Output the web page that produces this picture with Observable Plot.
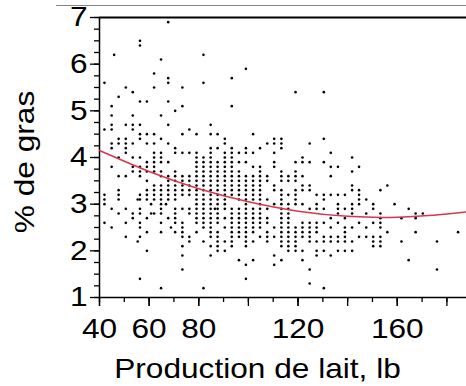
<!DOCTYPE html>
<html>
<head>
<meta charset="utf-8">
<script src="https://cdn.jsdelivr.net/npm/d3@7"></script>
<script src="https://cdn.jsdelivr.net/npm/@observablehq/plot@0.6"></script>
<style>
  html, body { margin: 0; padding: 0; background: #fff; }
</style>
</head>
<body>
<div id="chart"></div>
<script>
// Milk production (lb) columns and fat % values
const colX = [42.0, 44.9, 47.7, 50.6, 53.4, 56.3, 59.1, 62.0, 64.8, 67.7,
  70.5, 73.4, 76.2, 79.1, 81.9, 84.8, 87.6, 90.5, 93.3, 96.2,
  99.0, 101.9, 104.7, 107.6, 110.4, 113.3, 116.1, 119.0, 121.8, 124.7,
  127.5, 130.4, 133.2, 136.1, 138.9, 141.8, 144.6, 147.5, 150.3, 153.2,
  156.0, 158.9, 161.7, 164.6, 167.4, 170.3, 176.0, 184.5];
const colFat = [
  [5.6, 4.6, 3.2, 3.1, 3.0, 2.6],
  [5.1, 4.9, 4.7, 4.6, 4.3, 4.2, 3.8, 2.9, 2.5],
  [5.3, 4.4, 4.3, 4.0, 3.6, 3.3, 3.2, 3.1, 2.8],
  [5.5, 4.7, 4.4, 4.3, 4.2, 4.1, 3.6, 2.9, 2.6, 2.3],
  [5.4, 4.9, 4.7, 4.6, 4.3, 4.0, 3.8, 3.7, 2.8, 2.7],
  [6.5, 6.4, 5.2, 4.7, 4.5, 4.4, 4.0, 3.8, 3.7, 3.6, 3.2, 3.1, 2.9, 2.8, 2.6, 2.5, 2.3, 1.4],
  [5.2, 4.5, 4.3, 3.9, 3.8, 3.7, 3.5, 3.3, 3.2, 3.1, 2.7, 2.4, 2.0],
  [5.8, 5.5, 4.5, 4.3, 4.1, 4.0, 3.9, 3.8, 3.7, 3.4, 3.3, 3.2, 3.1, 2.8],
  [6.1, 4.9, 4.4, 4.1, 4.0, 3.9, 3.7, 3.6, 3.4, 3.3, 3.2, 3.1, 3.0, 2.9, 2.8, 2.6, 2.4, 1.2],
  [6.9, 5.7, 5.6, 5.2, 4.7, 4.3, 3.9, 3.6, 3.5, 3.4, 3.3, 3.2, 3.1, 2.7],
  [5.0, 4.2, 4.1, 3.7, 3.6, 3.5, 3.4, 3.3, 3.2, 3.1, 2.9, 2.8, 2.7, 2.6, 2.4],
  [5.5, 5.1, 4.5, 4.1, 3.6, 3.5, 3.4, 3.3, 3.2, 2.9, 2.6, 2.5, 2.4, 2.3, 2.1, 1.9, 1.6],
  [4.6, 4.1, 3.6, 3.5, 3.4, 3.3, 3.2, 2.9, 2.8, 2.3, 2.2],
  [4.5, 4.1, 4.0, 3.9, 3.8, 3.7, 3.6, 3.5, 3.4, 3.3, 3.2, 3.1, 3.0, 2.9, 2.8, 2.7, 2.6, 2.4],
  [6.2, 5.6, 4.0, 3.9, 3.8, 3.7, 3.6, 3.5, 3.4, 3.3, 3.2, 3.1, 3.0, 2.9, 2.8, 2.7, 2.6, 2.5, 2.2, 1.2],
  [4.7, 4.5, 4.2, 4.1, 4.0, 3.9, 3.8, 3.7, 3.6, 3.5, 3.4, 3.3, 3.2, 3.1, 3.0, 2.9, 2.8, 2.7, 2.6, 2.5, 2.4, 2.3, 2.1, 1.9],
  [4.5, 4.2, 3.9, 3.8, 3.7, 3.6, 3.5, 3.4, 3.3, 3.2, 3.1, 3.0, 2.9, 2.8, 2.7, 2.6, 2.4, 2.3, 2.2, 2.1, 2.0],
  [4.4, 4.3, 4.1, 4.0, 3.9, 3.8, 3.7, 3.6, 3.5, 3.4, 3.3, 3.2, 3.1, 3.0, 2.9, 2.7, 2.5, 2.2, 2.0],
  [5.7, 5.1, 4.2, 4.1, 4.0, 3.9, 3.8, 3.7, 3.6, 3.5, 3.4, 3.3, 3.2, 2.9, 2.8, 2.7, 2.6, 2.5, 2.4, 2.3, 2.2, 2.1],
  [4.1, 3.9, 3.7, 3.6, 3.5, 3.4, 3.3, 3.2, 3.1, 2.9, 2.8, 2.7, 2.6, 2.5, 2.4, 2.3, 1.8],
  [5.9, 4.2, 4.1, 3.9, 3.6, 3.5, 3.4, 3.3, 3.2, 3.1, 3.0, 2.9, 2.8, 2.7, 2.6, 2.5, 2.4, 2.3, 2.2, 2.1, 1.7, 1.4],
  [4.5, 4.1, 3.8, 3.6, 3.5, 3.4, 3.3, 3.2, 3.1, 2.9, 2.8, 2.7, 2.6, 2.5, 2.4, 2.2, 1.8],
  [4.2, 3.8, 3.7, 3.6, 3.5, 3.4, 3.3, 3.2, 3.1, 3.0, 2.9, 2.8, 2.7, 2.6, 2.5, 2.3],
  [4.3, 3.6, 3.5, 3.1, 2.9, 2.7, 2.6, 2.4, 2.3, 2.2],
  [4.4, 4.3, 4.1, 3.9, 3.8, 3.4, 3.3, 3.0, 2.5, 2.3, 1.9, 1.7],
  [4.4, 4.3, 4.2, 3.7, 3.6, 3.5, 3.3, 3.2, 3.1, 3.0, 2.9, 2.8, 2.7, 2.6, 2.5, 2.4, 2.3, 2.2, 2.1, 1.8],
  [3.6, 3.5, 3.2, 3.0, 2.9, 2.8, 2.7, 2.6, 2.5, 2.4, 2.3, 2.2, 2.1, 2.0],
  [5.4, 3.9, 3.7, 3.6, 3.5, 3.3, 3.2, 3.1, 3.0, 2.5, 2.4, 2.3, 2.2, 2.1, 2.0],
  [4.0, 3.9, 3.6, 3.4, 3.3, 3.0, 2.6, 2.5, 2.4, 2.3, 2.0, 1.8],
  [4.3, 3.9, 3.4, 3.3, 2.9, 2.6, 2.5, 2.4, 2.3, 2.2, 1.6, 1.3],
  [3.2, 3.0, 2.9, 2.6, 2.5, 2.4, 2.2, 2.0, 1.9],
  [5.4, 4.4, 3.9, 3.2, 3.1, 2.9, 2.6, 2.3, 2.2, 2.0, 1.2],
  [4.1, 3.8, 3.6, 3.2, 2.7, 2.5, 2.3, 2.2, 1.9],
  [3.8, 3.2, 3.0, 2.9, 2.8, 2.6, 2.3, 2.2, 2.0],
  [3.2, 2.9, 2.7, 2.5, 2.4, 2.3, 2.2, 2.0],
  [4.0, 3.7, 3.4, 3.3, 3.0, 2.9, 2.8, 2.5, 2.2, 2.0],
  [3.8, 3.3, 3.2, 3.1, 3.0, 2.6, 2.3],
  [3.1, 2.8, 2.5, 2.3],
  [3.0, 2.9, 2.6, 2.3, 2.2, 2.1],
  [3.3, 2.8, 2.7, 2.6, 2.5, 2.3, 2.2, 2.1],
  [3.4, 2.4],
  [3.0],
  [2.7, 2.2],
  [2.9, 1.8],
  [2.8, 2.7, 2.4],
  [2.8],
  [2.2, 1.6],
  [2.4]
];
// a few points lying between the columns
const extraX = [45.9, 55.4, 55.4, 60.8, 60.8, 66.8, 68.8, 86.5];
const extraFat = [6.2, 3.1, 2.2, 3.0, 2.8, 3.0, 2.5, 2.9];

// fitted quadratic curve
const curveX = [40, 60, 80, 100, 120, 140, 160, 180, 190];
const curveFat = [4.15, 3.70, 3.33, 3.05, 2.85, 2.74, 2.72, 2.79, 2.85];

// axis ticks
const xLabelTicks = [40, 60, 80, 120, 160];
const xMajorTicks = [40, 60, 80, 100, 120, 140, 160, 180];
const xMinorTicks = [40, 50, 60, 70, 80, 90, 100, 110, 120, 130, 140, 150, 160, 170, 180];
const yTicks = [1, 2, 3, 4, 5, 6, 7];
const yMinorTicks = d3.range(1, 7.001, 0.25);

const points = [];
colX.forEach((x, i) => colFat[i].forEach(y => points.push({x, y})));
extraX.forEach((x, i) => points.push({x, y: extraFat[i]}));
const curve = curveX.map((x, i) => ({x, y: curveFat[i]}));

const font = "'Liberation Sans', Arial, Helvetica, sans-serif";
const noText = () => "";

const chart = Plot.plot({
  width: 466,
  height: 386,
  marginLeft: 99,
  marginRight: 0,
  marginTop: 17,
  marginBottom: 89,
  style: {fontFamily: font, fontSize: "28px", background: "#fff", color: "#000", overflow: "visible"},
  x: {domain: [40, 187.9]},
  y: {domain: [1, 7]},
  marks: [
    Plot.ruleY([7], {dy: -12, insetLeft: -43, stroke: "#858585", strokeWidth: 1.2}),
    Plot.ruleY([7], {stroke: "#000", strokeWidth: 2}),
    Plot.axisX({ticks: xMinorTicks, tickSize: 5, tickFormat: noText, label: null, strokeWidth: 1.3}),
    Plot.axisX({ticks: xMajorTicks, tickSize: 9, tickFormat: noText, label: null, strokeWidth: 1.3}),
    Plot.axisX({ticks: xLabelTicks, tickSize: 9, tickPadding: 12, tickFormat: d => String(d), fontSize: 28, label: null, strokeWidth: 1.3}),
    Plot.axisY({ticks: yMinorTicks, tickSize: 5, tickFormat: noText, label: null, strokeWidth: 1.3}),
    Plot.axisY({ticks: yTicks, tickSize: 9, tickPadding: 3, tickFormat: d => String(d), fontSize: 28, label: null, strokeWidth: 1.3}),
    Plot.ruleY([1], {stroke: "#000", strokeWidth: 1.5}),
    Plot.ruleX([40], {stroke: "#000", strokeWidth: 1.5}),
    Plot.dot(points, {x: "x", y: "y", r: 1.3, fill: "#000", stroke: null}),
    Plot.line(curve, {x: "x", y: "y", curve: "natural", stroke: "#d8354f", strokeWidth: 1.5}),
    Plot.text(["Production de lait, lb"], {text: d => d, frameAnchor: "bottom", textAnchor: "middle", lineAnchor: "bottom", dx: -25.5, dy: 80, fontSize: 28, fill: "#000"}),
    Plot.text(["% de gras"], {text: d => d, frameAnchor: "left", textAnchor: "middle", lineAnchor: "middle", rotate: -90, dx: -74.5, dy: 4.5, fontSize: 28, fill: "#000"})
  ]
});

document.getElementById("chart").appendChild(chart);

// the reference's type is wider than Liberation Sans: widen each label along its
// writing direction, about its own anchor, using the SVG transform list
chart.querySelectorAll("text").forEach(t => {
  if (!t.textContent) return;
  let bb;
  try { bb = t.getBBox(); } catch (e) { return; }
  const anchor = getComputedStyle(t).textAnchor;
  const ax = anchor === "middle" ? bb.x + bb.width / 2 : anchor === "end" ? bb.x + bb.width : bb.x;
  const list = t.transform.baseVal;
  const t1 = chart.createSVGTransform(); t1.setTranslate(ax, 0);
  const t2 = chart.createSVGTransform(); t2.setScale(1.13, 1);
  const t3 = chart.createSVGTransform(); t3.setTranslate(-ax, 0);
  list.appendItem(t1); list.appendItem(t2); list.appendItem(t3);
});
</script>
</body>
</html>
